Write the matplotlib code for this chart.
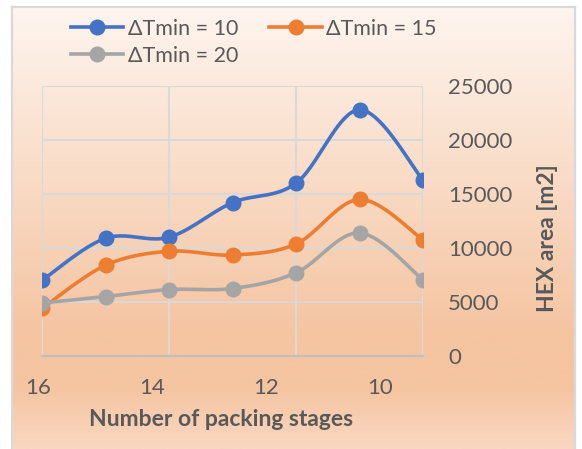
import numpy as np
import matplotlib.pyplot as plt
from matplotlib.colors import LinearSegmentedColormap
from matplotlib.lines import Line2D
from matplotlib.transforms import blended_transform_factory

plt.rcParams['font.family'] = ['Lato', 'DejaVu Sans']

stages = [16, 15, 14, 13, 12, 11, 10]
area_dt10 = [7000, 10900, 11000, 14200, 16000, 22800, 16300]
area_dt15 = [4400, 8400, 9700, 9350, 10370, 14500, 10750]
area_dt20 = [4900, 5500, 6150, 6250, 7700, 11400, 7050]
series_labels = ['ΔTmin = 10', 'ΔTmin = 15', 'ΔTmin = 20']
series_colors = ['#4472C4', '#ED7D31', '#A5A5A5']
x_ticks = [16, 14, 12, 10]
y_ticks = [0, 5000, 10000, 15000, 20000, 25000]

TEXT = '#595959'
GRID = '#D9D9D9'


def smooth_curve(xs, ys, steps=40):
    # cubic bezier through every point, tangents from the neighbours (spreadsheet style smoothing)
    p = np.column_stack([xs, ys]).astype(float)
    p_ext = np.vstack([p[0], p, p[-1]])
    out = [p[0]]
    t = np.linspace(0, 1, steps)[1:, None]
    for i in range(len(p) - 1):
        p0, p1, p2, p3 = p_ext[i], p_ext[i + 1], p_ext[i + 2], p_ext[i + 3]
        c1 = p1 + (p2 - p0) / 6
        c2 = p2 - (p3 - p1) / 6
        seg = ((1 - t) ** 3) * p1 + 3 * ((1 - t) ** 2) * t * c1 + 3 * (1 - t) * t ** 2 * c2 + t ** 3 * p2
        out.extend(seg)
    out = np.array(out)
    return out[:, 0], out[:, 1]


W, H = 582, 449
fig = plt.figure(figsize=(W / 100, H / 100), dpi=100)
fig.patch.set_facecolor('white')

# chart area with vertical gradient fill
bg = fig.add_axes([12 / W, 0, (575 - 12) / W, (H - 7) / H], zorder=0)
grad_cmap = LinearSegmentedColormap.from_list(
    'peach', [(0.0, '#FEF5EF'), (0.74, '#F5C4A1'), (0.86, '#F5C4A1'), (1.0, '#F9D7C1')])
bg.imshow(np.linspace(0, 1, 256)[:, None], aspect='auto', cmap=grad_cmap,
          extent=[0, 1, 0, 1], origin='upper')
bg.set_xlim(0, 1)
bg.set_ylim(0, 1)
bg.set_xticks([])
bg.set_yticks([])
bg.spines['bottom'].set_visible(False)
for side in ['left', 'top', 'right']:
    bg.spines[side].set_color(GRID)
    bg.spines[side].set_linewidth(1.6)

ax = fig.add_axes([42 / W, (H - 356) / H, (423 - 42) / W, (356 - 86) / H], zorder=1)
ax.patch.set_alpha(0)

all_series = [area_dt10, area_dt15, area_dt20]
for vals, color in zip(all_series, series_colors):
    sx, sy = smooth_curve(stages, vals)
    ax.plot(sx, sy, color=color, lw=2.6, solid_capstyle='round', zorder=3)
    ax.plot(stages, vals, 'o', color=color, ms=10.5, zorder=4)

ax.set_xlim(16, 10)
ax.set_ylim(0, 25000)
ax.set_xticks(x_ticks)
ax.set_yticks(y_ticks)
ax.grid(True, color=GRID, lw=1.5)
ax.set_axisbelow(True)
for side in ['left', 'top', 'right']:
    ax.spines[side].set_visible(False)
ax.spines['bottom'].set_color('#BFBFBF')
ax.spines['bottom'].set_linewidth(1.5)
ax.tick_params(axis='both', length=0)
ax.tick_params(axis='x', labelbottom=False)
ax.yaxis.tick_right()
ax.tick_params(axis='y', labelsize=16, labelcolor=TEXT, pad=18)
for lbl in ax.get_yticklabels():
    lbl.set_horizontalalignment('left')


# category labels sit on a slightly compressed spacing under the plot
def label_pos(v):
    return 16 - (57 * (16 - v) - 4) / 63.5


trans = blended_transform_factory(ax.transData, ax.transAxes)
for v in x_ticks:
    ax.text(label_pos(v), -0.12, str(v), transform=trans, ha='center', va='center',
            fontsize=16, color=TEXT, clip_on=False)

fig.text(221 / W, 1 - 420 / H, 'Number of packing stages', ha='center', va='center',
         fontsize=16.5, fontweight='bold', color=TEXT)
fig.text(548 / W, 1 - 238 / H, 'HEX area [m2]', ha='center', va='center', rotation=90,
         fontsize=16.5, fontweight='bold', color=TEXT)

handles = [Line2D([], [], color=c, lw=2.6, marker='o', ms=10.5) for c in series_colors]
order = [0, 2, 1]
fig.legend([handles[i] for i in order], [series_labels[i] for i in order],
           ncol=2, loc='upper left', bbox_to_anchor=(62 / W, 1 - 10 / H),
           frameon=False, fontsize=15.5, labelcolor=TEXT, handlelength=2.45,
           handletextpad=0.2, columnspacing=1.45, labelspacing=0.32, borderaxespad=0)

fig.savefig('out.png', dpi=100)
